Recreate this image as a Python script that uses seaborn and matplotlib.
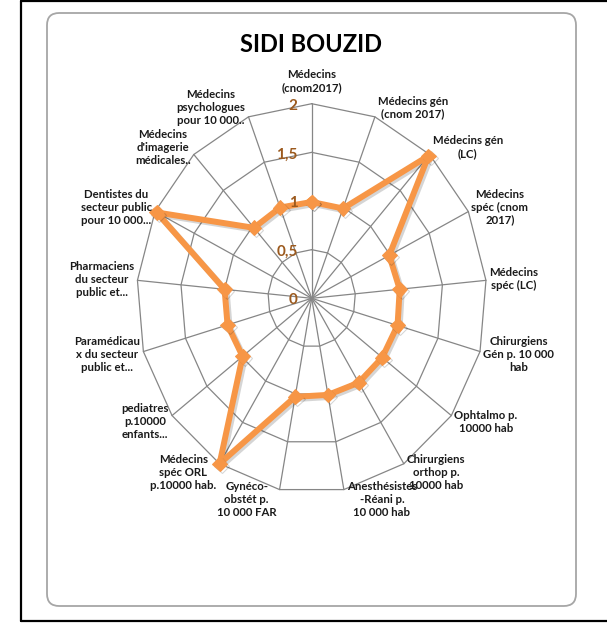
import numpy as np
import pandas as pd
import matplotlib
matplotlib.use("Agg")
import matplotlib.pyplot as plt
import matplotlib.patheffects as pe
import seaborn as sns
from matplotlib.patches import FancyBboxPatch
from matplotlib.lines import Line2D

# ---------------- data ----------------
title = "SIDI BOUZID"
categories = [
    "Médecins\n(cnom2017)",
    "Médecins gén\n(cnom 2017)",
    "Médecins gén\n(LC)",
    "Médecins\nspéc (cnom\n2017)",
    "Médecins\nspéc (LC)",
    "Chirurgiens\nGén p. 10 000\nhab",
    "Ophtalmo p.\n10000 hab",
    "Chirurgiens\northop p.\n10000 hab",
    "Anesthésistes\n-Réani p.\n10 000 hab",
    "Gynéco-\nobstét p.\n10 000 FAR",
    "Médecins\nspéc ORL\np.10000 hab.",
    "pediatres\np.10000\nenfants...",
    "Paramédicau\nx du secteur\npublic et...",
    "Pharmaciens\ndu secteur\npublic et...",
    "Dentistes du\nsecteur public\npour 10 000...",
    "Médecins\nd'imagerie\nmédicales..",
    "Médecins\npsychologues\npour 10 000..",
]
values = [0.99, 0.99, 1.98, 0.99, 1.01, 1.02, 1.01, 1.02, 1.01, 1.03,
          2.00, 0.99, 1.00, 1.00, 1.98, 0.98, 1.00]
ticks = [0, 0.5, 1, 1.5, 2]
tick_labels = ["0", "0,5", "1", "1,5", "2"]

# ---------------- style ----------------
sns.set_theme(style="white")
plt.rcParams["font.family"] = ["Lato", "DejaVu Sans"]

W, H = 607, 624
fig = plt.figure(figsize=(W / 100, H / 100), dpi=100)
fig.patch.set_facecolor("white")

# chart frame (rounded grey box) and outer black border
box = FancyBboxPatch((47 / W, 1 - 606 / H), (576 - 47) / W, (606 - 13) / H,
                     boxstyle="round,pad=0,rounding_size=0.02",
                     mutation_aspect=W / H,
                     transform=fig.transFigure, facecolor="white",
                     edgecolor="#A6A6A6", linewidth=1.3, zorder=0)
fig.add_artist(box)
for xs_, ys_ in [([21 / W, 21 / W], [1 - 1 / H, 1 - 621 / H]),
                 ([21 / W, 1.0], [1 - 1 / H, 1 - 1 / H]),
                 ([21 / W, 1.0], [1 - 621 / H, 1 - 621 / H])]:
    fig.add_artist(Line2D(xs_, ys_, transform=fig.transFigure,
                          color="black", linewidth=1.6))

cx, cy = 311.7, 298.3          # centre in pixels (from top-left)
sx, sy = 87.5, 97.3            # pixels per unit
ax = fig.add_axes([0, 0, 1, 1])
ax.set_xlim(-cx / sx, (W - cx) / sx)
ax.set_ylim(-(H - cy) / sy, cy / sy)
ax.axis("off")
ax.patch.set_alpha(0)

n = len(categories)
theta = 2 * np.pi * np.arange(n) / n
s, c = np.sin(theta), np.cos(theta)
rmax = ticks[-1]

grid_col = "#868686"
# polygon rings
for t in ticks[1:]:
    ax.plot(np.append(t * s, t * s[0]), np.append(t * c, t * c[0]),
            color=grid_col, lw=0.9, zorder=1)
# spokes
for i in range(n):
    ax.plot([0, rmax * s[i]], [0, rmax * c[i]], color=grid_col, lw=0.9, zorder=1)

# data
vals = np.array(values)
df = pd.DataFrame({
    "x": np.append(vals * s, vals[0] * s[0]),
    "y": np.append(vals * c, vals[0] * c[0]),
})
orange = "#F79646"
sns.lineplot(data=df, x="x", y="y", sort=False, estimator=None, ax=ax,
             color=orange, linewidth=4.3, marker="D", markersize=7.5,
             markeredgecolor=orange, markerfacecolor=orange, zorder=3)
for ln in ax.lines[-1:]:
    ln.set_path_effects([pe.SimpleLineShadow(offset=(1.5, -1.5), alpha=0.18),
                         pe.Normal()])
ax.set_xlabel("")
ax.set_ylabel("")

# tick labels
for t, lab in zip(ticks, tick_labels):
    ax.text(-14 / sx, t - 2 / sy, lab, ha="right", va="center",
            color="#9C5A1E", fontsize=11, fontweight="bold", zorder=4)

# category labels
for i, lab in enumerate(categories):
    tx, ty = rmax * s[i], rmax * c[i]
    if abs(s[i]) < 0.05:
        ax.text(tx, ty + 11 / sy, lab, ha="center", va="bottom",
                multialignment="center", fontsize=8.2, fontweight="bold",
                color="#1A1A1A", linespacing=1.22, zorder=4)
    else:
        sign = 1 if s[i] > 0 else -1
        ax.text(tx + sign * 3 / sx, ty + c[i] * 10 / sy, lab,
                ha="left" if sign > 0 else "right", va="center",
                multialignment="center", fontsize=8.2, fontweight="bold",
                color="#1A1A1A", linespacing=1.22, zorder=4)

fig.text(311 / W, 1 - 44 / H, title, ha="center", va="center",
         fontsize=17, fontweight="bold", color="black")

fig.savefig("out.png", dpi=100, facecolor="white")
